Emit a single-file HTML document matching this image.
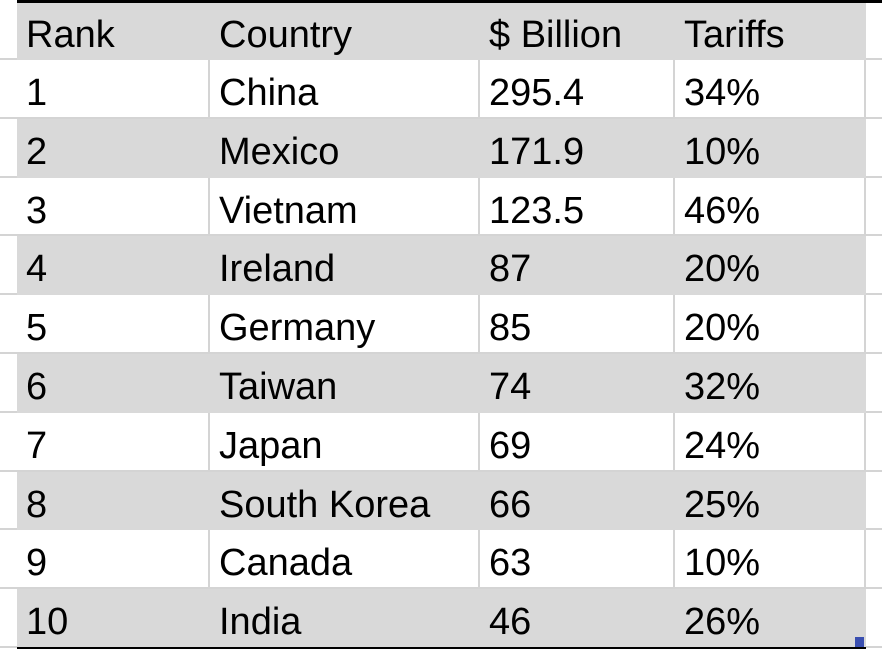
<!DOCTYPE html>
<html><head><meta charset="utf-8"><style>
html,body{margin:0;padding:0;background:#fff;width:882px;height:650px;overflow:hidden;position:relative;font-family:"Liberation Sans",sans-serif;}
.row{position:absolute;left:0;width:882px;}
.cell{position:absolute;top:0;box-sizing:border-box;color:#000;font-size:38px;padding-left:9px;padding-top:3px;white-space:nowrap;border-right:2px solid #d4d4d4;border-bottom:2px solid #d4d4d4;}
.g .cell{background:#d9d9d9;border-color:#d9d9d9;}
.stub{position:absolute;left:0;width:17px;box-sizing:border-box;border-bottom:2px solid #d4d4d4;}
.tail{position:absolute;left:866px;width:16px;box-sizing:border-box;border-bottom:2px solid #d4d4d4;}
</style></head><body>
<div style="position:absolute;left:17px;top:0;width:865px;height:3px;background:#000"></div>
<div id="t"></div>
<div style="position:absolute;left:17px;top:647px;width:849px;height:2px;background:#000"></div>
<div style="position:absolute;left:855px;top:637px;width:9px;height:10px;background:#3a4fb0"></div>
<script>
const header=["Rank","Country","$ Billion","Tariffs"];
const rows=[["1","China","295.4","34%"],["2","Mexico","171.9","10%"],["3","Vietnam","123.5","46%"],["4","Ireland","87","20%"],["5","Germany","85","20%"],["6","Taiwan","74","32%"],["7","Japan","69","24%"],["8","South Korea","66","25%"],["9","Canada","63","10%"],["10","India","46","26%"]];
const colX=[17,210,480,675,866];
const t=document.getElementById('t');
const all=[header].concat(rows);
const names=['rank','country','billion','tariffs'];
all.forEach((r,i)=>{
  const top=i===0?3:60+(i-1)*58.8;
  const h=i===0?57:58.8;
  const row=document.createElement('div');
  row.className='row'+((i%2===0)?' g':'');
  row.style.top=top+'px';row.style.height=h+'px';
  
  
  const s=document.createElement('div');s.className='stub';s.style.height=h+'px';
  
  
  row.appendChild(s);
  r.forEach((v,j)=>{
    const c=document.createElement('div');c.className='cell';
    c.style.left=colX[j]+'px';c.style.width=(colX[j+1]-colX[j])+'px';
    c.style.height=h+'px';c.style.lineHeight=(h+2)+'px';
    c.textContent=v;
    
    
    row.appendChild(c);
  });
  const tl=document.createElement('div');tl.className='tail';tl.style.height=h+'px';
  
  
  row.appendChild(tl);
  t.appendChild(row);
});
</script>
</body></html>
